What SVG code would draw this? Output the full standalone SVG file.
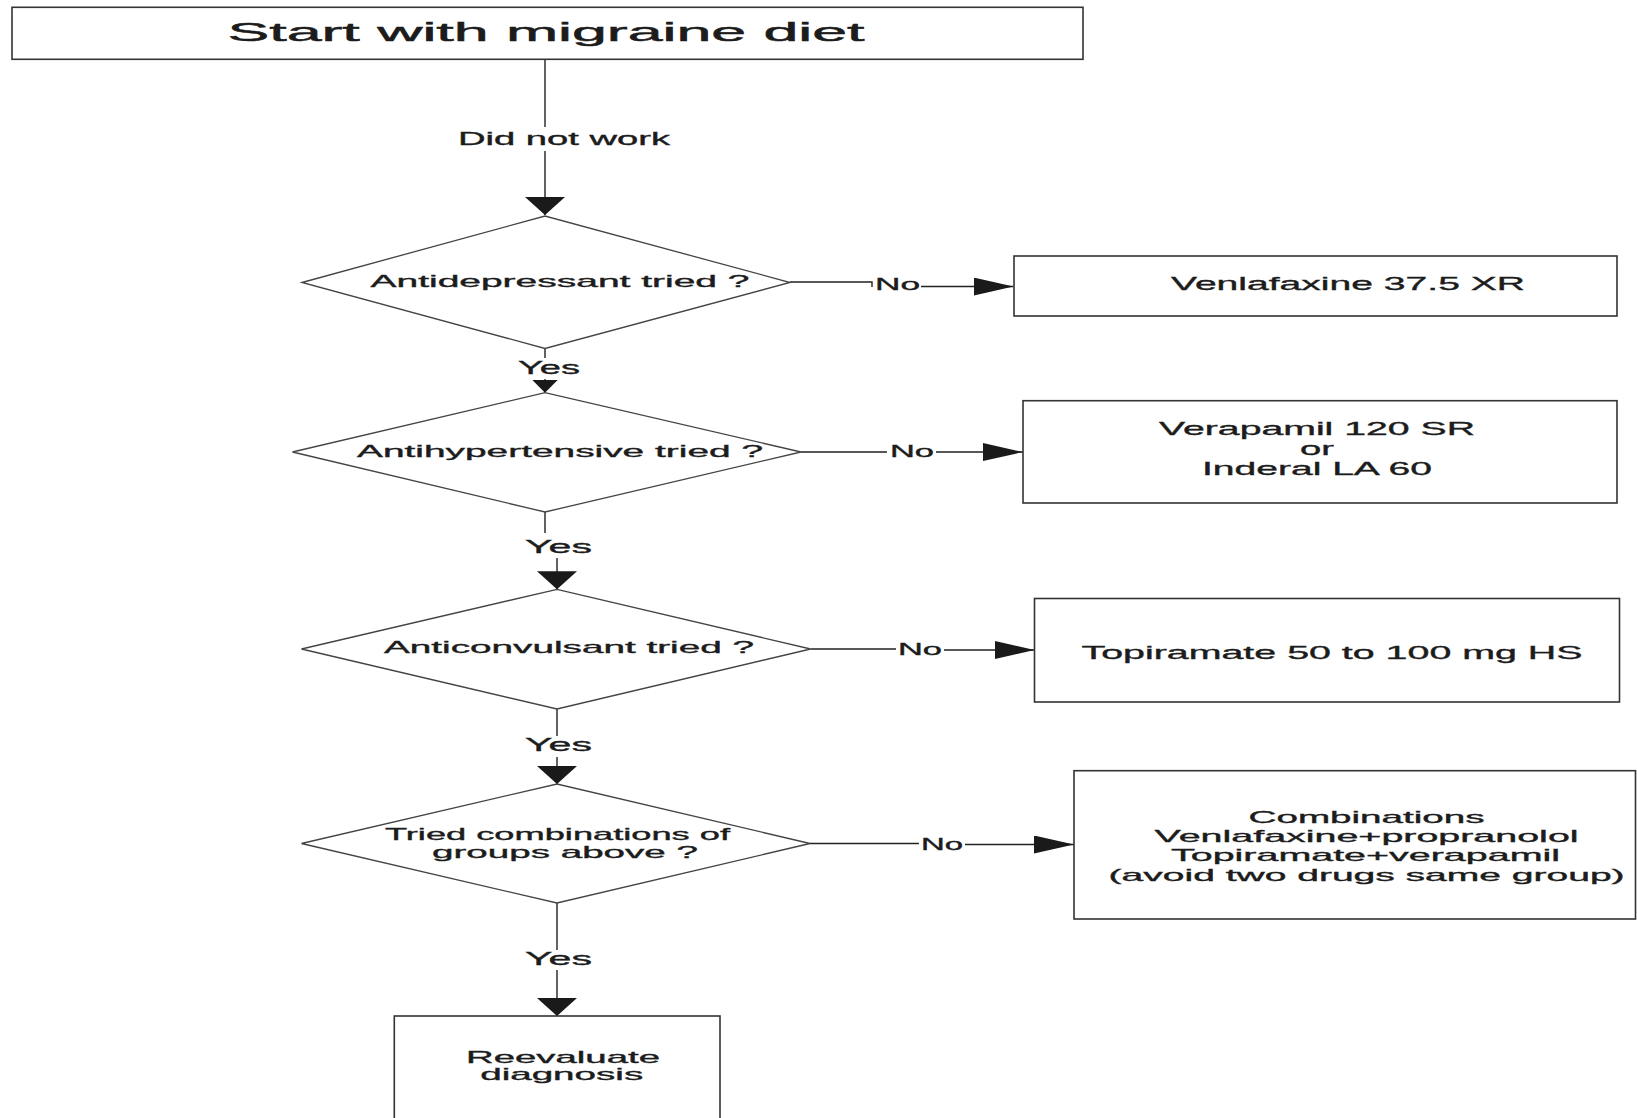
<svg xmlns="http://www.w3.org/2000/svg" width="1637" height="1118" viewBox="0 0 1637 1118">
<style>
.box{fill:#fff;stroke:#333;stroke-width:1.6}
.dia{fill:#fff;stroke:#444;stroke-width:1.3}
.ln{fill:none;stroke:#222;stroke-width:1.4}
text{font-family:"Liberation Sans",Arial,sans-serif;fill:#1c1c1c;stroke:#1c1c1c;stroke-width:0.35;text-anchor:middle}
.title{font-size:26.5px;stroke-width:0.5}
.q{font-size:17px}
.b{font-size:19px}
.b4{font-size:17px}
.lbl{font-size:18px}
.no{font-size:16px}
</style>
<defs>
<marker id="arrowH" markerUnits="userSpaceOnUse" markerWidth="40" markerHeight="18" refX="40" refY="9" orient="auto"><path d="M0,0 L40,9 L0,18 z" fill="#1a1a1a"/></marker>
<marker id="arrowV" markerUnits="userSpaceOnUse" markerWidth="18" markerHeight="40" refX="18" refY="20" orient="auto"><path d="M0,0 L18,20 L0,40 z" fill="#1a1a1a"/></marker>
<marker id="arrowS" markerUnits="userSpaceOnUse" markerWidth="13" markerHeight="26" refX="13" refY="13" orient="auto"><path d="M0,0 L13,13 L0,26 z" fill="#1a1a1a"/></marker>
</defs>
<rect width="1637" height="1118" fill="#fff"/>

<g id="connectors">
<path class="ln" d="M545,59.3 V127 M545,151 V215" marker-end="url(#arrowV)"/>
<path class="ln" d="M545,348.5 V358 M545,379 V392.7" marker-end="url(#arrowS)"/>
<path class="ln" d="M790,282 H872 V287 M921,286.5 H1013.5" marker-end="url(#arrowH)"/>
<path class="ln" d="M545,512 V533 M557,558 V589.3" marker-end="url(#arrowV)"/>
<path class="ln" d="M801,452 H887 M936,452 H1023" marker-end="url(#arrowH)"/>
<path class="ln" d="M557,709 V736 M557,757 V784" marker-end="url(#arrowV)"/>
<path class="ln" d="M810.6,649 H896 M944,650 H1034.5" marker-end="url(#arrowH)"/>
<path class="ln" d="M557,903 V950 M557,970 V1016" marker-end="url(#arrowV)"/>
<path class="ln" d="M810,843.5 H919 M965,844.5 H1074" marker-end="url(#arrowH)"/>
<text class="lbl" x="564" y="145" textLength="212" lengthAdjust="spacingAndGlyphs">Did not work</text>
<text class="lbl" x="549" y="374" textLength="62" lengthAdjust="spacingAndGlyphs">Yes</text>
<text class="no" x="897.5" y="290" textLength="45" lengthAdjust="spacingAndGlyphs">No</text>
<text class="lbl" x="558.5" y="553" textLength="67" lengthAdjust="spacingAndGlyphs">Yes</text>
<text class="no" x="912" y="457" textLength="44" lengthAdjust="spacingAndGlyphs">No</text>
<text class="lbl" x="558.5" y="750.5" textLength="67" lengthAdjust="spacingAndGlyphs">Yes</text>
<text class="no" x="920" y="655" textLength="44" lengthAdjust="spacingAndGlyphs">No</text>
<text class="lbl" x="558.5" y="965" textLength="67" lengthAdjust="spacingAndGlyphs">Yes</text>
<text class="no" x="942" y="850" textLength="42" lengthAdjust="spacingAndGlyphs">No</text>
</g>

<g id="start">
<rect class="box" x="12" y="7.3" width="1071" height="52"/>
<text class="title" x="546" y="40.7" textLength="637" lengthAdjust="spacingAndGlyphs">Start with migraine diet</text>
</g>

<g id="q-antidepressant">
<polygon class="dia" points="302,282.5 545,216 790,282.5 545,348.5"/>
<text class="q" x="560" y="287" textLength="379" lengthAdjust="spacingAndGlyphs">Antidepressant tried ?</text>
</g>

<g id="venlafaxine">
<rect class="box" x="1014" y="256" width="603" height="60"/>
<text class="b" x="1348" y="290" textLength="354" lengthAdjust="spacingAndGlyphs">Venlafaxine 37.5 XR</text>
</g>

<g id="q-antihypertensive">
<polygon class="dia" points="292.5,452 545,392.7 801,452 545,512"/>
<text class="q" x="560" y="457" textLength="406" lengthAdjust="spacingAndGlyphs">Antihypertensive tried ?</text>
</g>

<g id="verapamil">
<rect class="box" x="1023" y="400.7" width="594" height="102.3"/>
<text class="b" x="1317" y="435" textLength="316" lengthAdjust="spacingAndGlyphs">Verapamil 120 SR</text>
<text class="b" x="1317" y="455" textLength="34" lengthAdjust="spacingAndGlyphs">or</text>
<text class="b" x="1317" y="474.5" textLength="230" lengthAdjust="spacingAndGlyphs">Inderal LA 60</text>
</g>

<g id="q-anticonvulsant">
<polygon class="dia" points="301.5,649 557,589.3 810.6,649 557,709"/>
<text class="q" x="569" y="653" textLength="370" lengthAdjust="spacingAndGlyphs">Anticonvulsant tried ?</text>
</g>

<g id="topiramate">
<rect class="box" x="1034.5" y="598.5" width="585" height="103.5"/>
<text class="b" x="1332" y="659" textLength="501" lengthAdjust="spacingAndGlyphs">Topiramate 50 to 100 mg HS</text>
</g>

<g id="q-combinations">
<polygon class="dia" points="301.5,843.5 557,784 810,843.5 557,903"/>
<text class="q" x="557.5" y="840" textLength="345" lengthAdjust="spacingAndGlyphs">Tried combinations of</text>
<text class="q" x="565" y="858" textLength="266" lengthAdjust="spacingAndGlyphs">groups above ?</text>
</g>

<g id="combinations">
<rect class="box" x="1074" y="770.7" width="561.5" height="148.3"/>
<text class="b4" x="1366.6" y="822.7" textLength="236" lengthAdjust="spacingAndGlyphs">Combinations</text>
<text class="b4" x="1366.6" y="842" textLength="424" lengthAdjust="spacingAndGlyphs">Venlafaxine+propranolol</text>
<text class="b4" x="1365.5" y="861.3" textLength="389" lengthAdjust="spacingAndGlyphs">Topiramate+verapamil</text>
<text class="b4" x="1366.6" y="880.6" textLength="516" lengthAdjust="spacingAndGlyphs">(avoid two drugs same group)</text>
</g>

<g id="reevaluate">
<rect class="box" x="394.3" y="1016" width="325.7" height="130"/>
<text class="b4" x="563" y="1063" textLength="194" lengthAdjust="spacingAndGlyphs">Reevaluate</text>
<text class="b4" x="561.7" y="1080" textLength="163" lengthAdjust="spacingAndGlyphs">diagnosis</text>
</g>
</svg>
